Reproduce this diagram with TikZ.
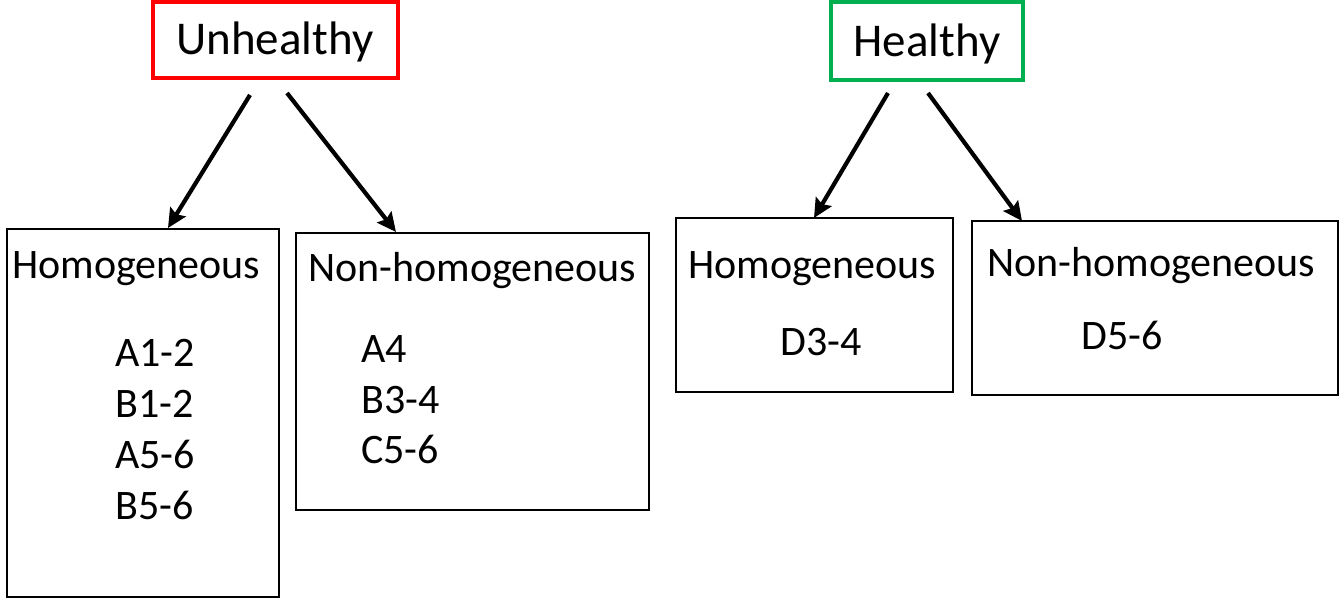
\documentclass[tikz,border=0pt]{standalone}
\usepackage{fontspec}
\setmainfont{Carlito}
\usetikzlibrary{arrows.meta}
\definecolor{ured}{HTML}{FF0000}
\definecolor{hgreen}{HTML}{00B050}
\tikzset{
  box/.style={draw=black, line width=2.4pt, rectangle, inner sep=0pt},
  topbox/.style={rectangle, line width=3.4pt, inner sep=0pt},
  lbl/.style={anchor=base west, inner sep=0pt, font=\fontsize{42}{50}\selectfont},
  toplbl/.style={anchor=base, inner sep=0pt, font=\fontsize{47}{56}\selectfont},
  arr/.style={line width=4.2pt, -{Stealth[length=19pt,width=18pt,inset=3pt]}}
}
\begin{document}
\begin{tikzpicture}[x=1pt,y=-1pt]
\useasboundingbox (0,0) rectangle (1340,599);
% top boxes
\node[topbox, draw=ured, minimum width=245pt, minimum height=76pt] (unh) at (275.5,40) {};
\node[toplbl] (unht) at (275,55) {Unhealthy};
\node[topbox, draw=hgreen, minimum width=192pt, minimum height=78pt] (hea) at (927,41) {};
\node[toplbl] (heat) at (927,57) {Healthy};
% lower boxes
\node[box, minimum width=272pt, minimum height=368pt] (uh) at (143,413) {};
\node[box, minimum width=353pt, minimum height=277pt] (un) at (472.5,371.5) {};
\node[box, minimum width=277pt, minimum height=174pt] (hh) at (814.5,305) {};
\node[box, minimum width=366pt, minimum height=174pt] (hn) at (1155,308) {};
% labels
\node[lbl] (uht) at (12,278) {Homogeneous};
\node[lbl] (uh1) at (115,366) {A1-2};
\node[lbl] (uh2) at (115,417) {B1-2};
\node[lbl] (uh3) at (115,468) {A5-6};
\node[lbl] (uh4) at (115,519) {B5-6};
\node[lbl] (unt) at (308,281) {Non-homogeneous};
\node[lbl] (un1) at (361,362) {A4};
\node[lbl] (un2) at (361,413) {B3-4};
\node[lbl] (un3) at (361,463) {C5-6};
\node[lbl] (hht) at (688,278) {Homogeneous};
\node[lbl] (hh1) at (780,355) {D3-4};
\node[lbl] (hnt) at (987,276) {Non-homogeneous};
\node[lbl] (hn1) at (1081,349) {D5-6};
% arrows
\coordinate (s1) at (250,95);
\coordinate (s2) at (287,93);
\coordinate (s3) at (888,93);
\coordinate (s4) at (928,93);
\coordinate (e1) at (168,228);
\coordinate (e2) at (396,232);
\coordinate (e3) at (814,218);
\coordinate (e4) at (1022,221);
\draw[arr] (s1) -- (e1);
\draw[arr] (s2) -- (e2);
\draw[arr] (s3) -- (e3);
\draw[arr] (s4) -- (e4);
\end{tikzpicture}
\end{document}
